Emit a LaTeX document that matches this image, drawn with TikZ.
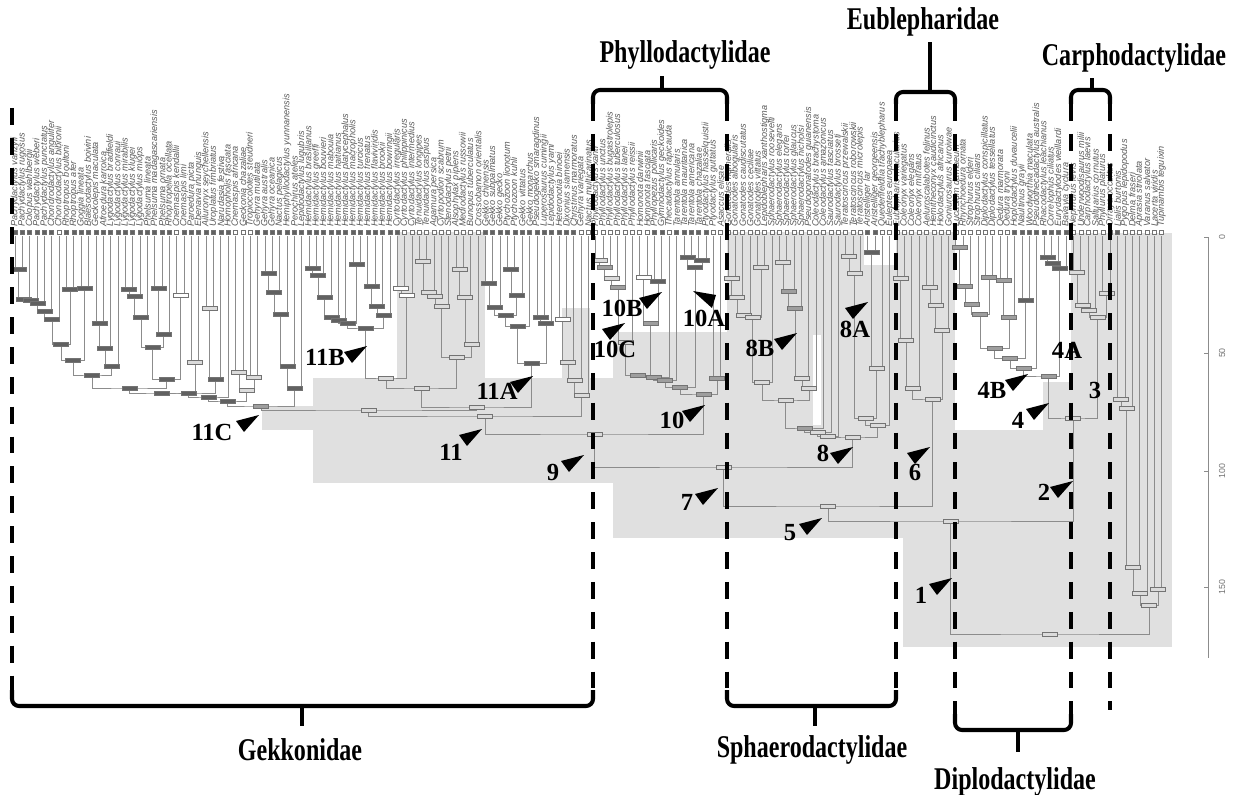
\documentclass[tikz,border=0pt]{standalone}
\usepackage{fontspec}
\setmainfont{Liberation Serif}
\newfontfamily\tipfont{Liberation Sans}
\newfontfamily\famfont{Liberation Serif}[FakeStretch=0.76]
\usetikzlibrary{calc}

\pgfdeclarelayer{bars}
\pgfdeclarelayer{front}
\pgfsetlayers{main,bars,front}

\colorlet{bggray}{black!12}
\colorlet{bd}{black!62}
\colorlet{bm}{black!38}
\colorlet{bl}{black!14}
\colorlet{bw}{white}

% clade: [x shift] name, left child, right child, height, bar fill
\newcommand\clade[6][0]{%
  \coordinate (#2m) at ($(#3)!0.5!(#4)$);
  \coordinate (#2) at ($(#2m |- 0,#5)+(#1,0)$);
  \draw[branch] (#3) |- (#2) -| (#4);
  \begin{pgfonlayer}{bars}
    \node[agebar, fill=#6] (#2bar) at (#2) {};
  \end{pgfonlayer}
}
% pointer triangle: name, tip x, tip y
\newcommand\pointer[3]{%
  \coordinate (#1) at (#2,#3);
  \fill (#1) -- ++(-23,6) -- ++(8,11) -- cycle;
}

\begin{document}
\begin{tikzpicture}[x=0.02cm, y=-0.02cm,
  branch/.style={draw=black!45, line width=0.4pt},
  agebar/.style={draw=black!55, line width=0.3pt, rectangle, inner sep=0pt,
                 minimum width=0.3cm, minimum height=0.08cm},
  tipbox/.style={draw=black!55, line width=0.3pt, rectangle, inner sep=0pt, minimum size=0.08cm},
  tipname/.style={font=\tipfont\itshape\fontsize{5.2}{5.5}\selectfont, text=black!65,
                  rotate=90, anchor=west, inner sep=0.5pt},
  famline/.style={line width=2.3pt, dash pattern=on 9.6pt off 7.4pt},
  bracket/.style={line width=2.3pt, rounded corners=4pt},
  famlab/.style={font=\famfont\bfseries\fontsize{18}{18}\selectfont, inner sep=0pt},
  numlab/.style={font=\bfseries\fontsize{14}{14}\selectfont, inner sep=0pt},
  axis/.style={draw=black!45, line width=0.4pt}
]
\useasboundingbox (0,0) rectangle (1233,794);

% shaded blocks
\fill[bggray] (397,232) rectangle (485,378);
\fill[bggray] (562,308) rectangle (590,378);
\fill[bggray] (313,378) rectangle (613,483);
\fill[bggray] (262,406) rectangle (313,430);
\fill[bggray] (613,332) rectangle (903,538);
\fill[bggray] (727,232) rectangle (896,332);
\fill[bggray] (896,232) rectangle (955,538);
\fill[bggray] (955,430) rectangle (1071,538);
\fill[bggray] (1043,382) rectangle (1071,430);
\fill[bggray] (1071,233) rectangle (1172,647);
\fill[bggray] (903,538) rectangle (1172,647);
\fill[white] (813,335) rectangle (821,425);
\fill[white] (864,232) rectangle (896,265);

% tips
\foreach \i in {0,...,156}
  \coordinate (t\i) at (15+7.35*\i,236);
\foreach \i in {0,...,156}
  \node[tipbox, fill=bd] (s\i) at (15+7.35*\i,232) {};
\foreach \i in {6,22,30,31,32,53,54,55,56,57,58,59,60,61,62,63,77,78,79,80,81,82,83,84,85,86,89,95,96,
  97,98,99,100,101,102,103,104,105,106,107,108,109,110,111,112,113,114,115,118,119,120,121,122,123,124,
  125,126,127,128,129,130,131,132,133,134,135,144,145,146,147,148,149,151,152,153,154,155,156}
  \node[tipbox, fill=white] (sw\i) at (s\i) {};

\foreach \nm [count=\i from 0] in {Pachydactylus vanzyli, Pachydactylus rugosus, Colopus wahlbergii,
  Pachydactylus weberi, Pachydactylus punctatus, Chondrodactylus angulifer, Chondrodactylus bibronii,
  Rhoptropus boultoni, Rhoptropus afer, Goggia lineata, Blaesodactylus boivini, Geckolepis maculata,
  Afroedura karroica, Lygodactylus bradfieldi, Lygodactylus conraui, Lygodactylus mirabilis,
  Lygodactylus klugei, Lygodactylus miops, Phelsuma lineata, Phelsuma madagascariensis, Phelsuma ornata,
  Rhoptropella ocellata, Cnemaspis kendallii, Cnemaspis limi, Paroedura picta, Ebenavia inunguis,
  Ailuronyx seychellensis, Uroplatus fimbriatus, Narudasia festiva, Homopholis fasciata,
  Cnemaspis africana, Geckonia chazaliae, Tropiocolotes steudneri, Gehyra mutilata, Gehyra australis,
  Gehyra oceanica, Nactus pelagicus, Hemiphyllodactylus yunnanensis, Perochirus ateles,
  Lepidodactylus lugubris, Hemidactylus brasilianus, Hemidactylus greeffi, Hemidactylus bouvieri,
  Hemidactylus mabouia, Hemidactylus haitianus, Hemidactylus platycephalus, Hemidactylus macropholis,
  Hemidactylus turcicus, Hemidactylus frenatus, Hemidactylus flaviviridis, Hemidactylus brookii,
  Hemidactylus bowringii, Cyrtodactylus irregularis, Cyrtodactylus philippinicus,
  Cyrtodactylus intermedius, Tenuidactylus longipes, Tenuidactylus caspius, Agamura persica,
  Cyrtopodion scabrum, Stenodactylus petrii, Alsophylax pipiens, Mediodactylus russowii,
  Bunopus tuberculatus, Crossobamon orientalis, Gekko chinensis, Gekko subpalmatus, Gekko gecko,
  Ptychozoon lionotum, Ptychozoon kuhli, Gekko vittatus, Gekko monarchus, Pseudogekko smaragdinus,
  Luperosaurus cumingii, Lepidodactylus yami, Heteronotia binoei, Dixonius siamensis,
  Christinus marmoratus, Gehyra variegata, Nactus multicarinatus,
  Phyllodactylus xanti, Phyllodactylus unctus, Phyllodactylus bugastrolepis,
  Phyllodactylus tuberculosus, Phyllodactylus lanei, Phyllodactylus reissii, Homonota darwinii,
  Homonota fasciata, Phyllopezus pollicaris, Gymnodactylus geckoides, Thecadactylus rapicauda,
  Tarentola annularis, Tarentola mauritanica, Tarentola americana, Tarentola chazaliae,
  Ptyodactylus hasselquistii, Ptyodactylus guttatus, Asaccus elisae,
  Gonatodes humeralis, Gonatodes albogularis, Gonatodes caudiscutatus, Gonatodes ceciliae,
  Gonatodes vittatus, Lepidoblepharis xanthostigma, Sphaerodactylus roosevelti,
  Sphaerodactylus elegans, Sphaerodactylus torrei, Sphaerodactylus glaucus, Sphaerodactylus nicholsi,
  Pseudogonatodes guianensis, Coleodactylus brachystoma, Coleodactylus amazonicus,
  Saurodactylus fasciatus, Saurodactylus brosseti, Teratoscincus przewalskii,
  Teratoscincus roborowskii, Teratoscincus microlepis, Aristelliger lar, Aristelliger georgeensis,
  Quedenfeldtia trachyblepharus, Euleptes europaea,
  Eublepharis macularius, Coleonyx variegatus, Coleonyx elegans, Coleonyx mitratus,
  Aeluroscalabotes felinus, Hemitheconyx caudicinctus, Holodactylus africanus, Goniurosaurus kuroiwae,
  Lucasium damaeum, Rhynchoedura ornata, Strophurus elderi, Strophurus ciliaris,
  Diplodactylus conspicillatus, Diplodactylus tessellatus, Oedura marmorata, Oedura tryoni,
  Hoplodactylus duvaucelii, Naultinus grayii, Woodworthia maculata, Pseudothecadactylus australis,
  Rhacodactylus leachianus, Correlophus ciliatus, Eurydactylodes vieillardi, Bavayia cyclura,
  Nephrurus levis, Underwoodisaurus milii, Carphodactylus laevis, Saltuarius cornutus,
  Phyllurus platurus, Orraya occultus,
  Lialis burtonis, Pygopus lepidopodus, Delma fraseri, Aprasia striolata, Varanus salvator,
  Lacerta viridis, Tupinambis teguixin}
  \node[tipname] (nm\i) at ($(t\i)+(0,-8)$) {\nm};

% Gekkonidae
\clade{a1}{t0}{t1}{269}{bd}
\clade{a2}{a1}{t2}{299}{bd}
\clade{a3}{a2}{t3}{300}{bd}
\clade{a4}{a3}{t4}{303}{bd}
\clade{a5}{a4}{t5}{311}{bd}
\clade{a6}{a5}{t6}{319}{bd}
\clade{b1}{t7}{t8}{289}{bd}
\clade{b2}{t9}{t10}{288}{bd}
\clade{a7}{a6}{b1}{344}{bd}
\clade{a8}{a7}{b2}{360}{bd}
\clade{c1}{t11}{t12}{323}{bd}
\clade{c2}{c1}{t13}{348}{bd}
\clade{c3}{c2}{t14}{366}{bd}
\clade{a9}{a8}{c3}{375}{bd}
\clade{d1}{t15}{t16}{289}{bd}
\clade{d2}{d1}{t17}{296}{bd}
\clade{d3}{d2}{t18}{317}{bd}
\clade{e1}{t19}{t20}{288}{bd}
\clade{e2}{e1}{t21}{334}{bd}
\clade{d4}{d3}{e2}{347}{bd}
\clade{f0}{t22}{t23}{295}{bw}
\clade{d5}{d4}{f0}{379}{bd}
\clade{a10}{a9}{d5}{388}{bd}
\clade{f1}{t24}{t25}{362}{bl}
\clade{a11}{a10}{f1}{393}{bd}
\clade{g1}{t26}{t27}{308}{bl}
\clade{g2}{g1}{t28}{379}{bd}
\clade{a12}{a11}{g2}{393}{bd}
\clade{a13}{a12}{t29}{397}{bd}
\clade{h1}{t30}{t31}{372}{bl}
\clade{h2}{t32}{t33}{377}{bl}
\clade{h3}{h1}{h2}{390}{bl}
\clade{a14}{a13}{h3}{401}{bd}
\clade{k1}{t34}{t35}{273}{bd}
\clade{k2}{k1}{t36}{292}{bd}
\clade{k3}{k2}{t37}{314}{bd}
\clade{k4}{k3}{t38}{366}{bd}
\clade{k5}{k4}{t39}{388}{bd}
\clade{n11C}{a14}{k5}{406}{bm}
\clade{m1}{t40}{t41}{268}{bd}
\clade{m2}{m1}{t42}{275}{bd}
\clade{m3}{m2}{t43}{297}{bd}
\clade{m4}{m3}{t44}{317}{bd}
\clade{m5}{m4}{t45}{320}{bd}
\clade{n1}{t46}{t47}{264}{bd}
\clade{m6}{m5}{n1}{323}{bd}
\clade{n2}{t48}{t49}{286}{bd}
\clade{n3}{n2}{t50}{306}{bd}
\clade{n4}{n3}{t51}{315}{bd}
\clade{n11B}{m6}{n4}{328}{bd}
\clade{p1}{t52}{t53}{288}{bw}
\clade{p2}{p1}{t54}{295}{bw}
\clade{p3}{n11B}{p2}{378}{bl}
\clade{q1}{t55}{t56}{261}{bl}
\clade{q2}{q1}{t57}{292}{bl}
\clade{q3}{q2}{t58}{296}{bl}
\clade{q4}{q3}{t59}{306}{bl}
\clade{r1}{t60}{t61}{269}{bl}
\clade{r2}{r1}{t62}{297}{bl}
\clade{r3}{r2}{t63}{344}{bl}
\clade{q5}{q4}{r3}{357}{bl}
\clade{s1}{p3}{q5}{388}{bl}
\clade{w1}{t64}{t65}{283}{bd}
\clade{w2}{w1}{t66}{307}{bd}
\clade{y1}{t67}{t68}{269}{bd}
\clade{y2}{y1}{t69}{295}{bd}
\clade{w3}{w2}{y2}{315}{bd}
\clade{w4}{w3}{t70}{326}{bd}
\clade{z1}{t71}{t72}{317}{bd}
\clade{z2}{z1}{t73}{323}{bd}
\clade{n11A}{w4}{z2}{363}{bd}
\clade{v1}{t74}{t75}{319}{bw}
\clade{v2}{v1}{t76}{362}{bl}
\clade{v3}{v2}{t77}{380}{bl}
\clade{v4}{v3}{t78}{395}{bl}
\clade{x1}{s1}{n11A}{407}{bl}
\clade{x2}{n11C}{x1}{410}{bl}
\clade[10]{n11}{x2}{v4}{416}{bl}

% Phyllodactylidae
\clade{ph1}{t79}{t80}{260}{bl}
\clade{ph2}{ph1}{t81}{267}{bm}
\clade{ph3}{ph2}{t82}{278}{bl}
\clade{ph4}{ph3}{t83}{287}{bm}
\clade{ph5}{ph4}{t84}{342}{bl}
\clade{phw}{t85}{t86}{277}{bw}
\clade{phv}{t87}{t88}{281}{bd}
\clade{n10B}{phw}{phv}{323}{bm}
\clade{pc1}{ph5}{n10B}{375}{bm}
\clade{pc2}{pc1}{t89}{377}{bm}
\clade{pc3}{pc2}{t90}{380}{bm}
\clade{phh1}{t91}{t92}{257}{bd}
\clade{phh2}{t93}{t94}{260}{bd}
\clade{phh3}{phh1}{phh2}{267}{bd}
\clade{pc4}{pc3}{phh3}{387}{bm}
\clade{ph9}{t95}{t96}{378}{bm}
\clade[5]{n10}{pc4}{ph9}{394}{bm}
\clade{n9}{n11}{n10}{434}{bl}

% Sphaerodactylidae
\clade{sp1}{t97}{t98}{278}{bl}
\clade{sp2}{sp1}{t99}{297}{bl}
\clade{sp3}{sp2}{t100}{315}{bl}
\clade{sp4}{t101}{t102}{267}{bl}
\clade{sp5}{sp3}{sp4}{317}{bl}
\clade{sp6}{sp5}{t103}{382}{bl}
\clade{sk1}{t104}{t105}{262}{bl}
\clade{sk2}{sk1}{t106}{291}{bm}
\clade{sk3}{sk2}{t107}{308}{bm}
\clade{sk4}{sk3}{t108}{378}{bl}
\clade{sk5}{sk4}{t109}{388}{bl}
\clade{n8B}{sp6}{sk5}{400}{bl}
\clade{se1}{n8B}{t110}{428}{bm}
\clade{se2}{se1}{t111}{432}{bl}
\clade{se3}{se2}{t112}{436}{bl}
\clade{sf1}{t113}{t114}{256}{bl}
\clade{sf2}{sf1}{t115}{273}{bl}
\clade{sg1}{t116}{t117}{252}{bd}
\clade{sg2}{sg1}{t118}{368}{bl}
\clade{sf3}{sf2}{sg2}{418}{bl}
\clade{n8A}{sf3}{t119}{425}{bl}
\clade{n8}{se3}{n8A}{437}{bl}
\clade{n7}{n9}{n8}{467}{bl}

% Eublepharidae
\clade{eu1}{t120}{t121}{278}{bl}
\clade{eu2}{eu1}{t122}{340}{bl}
\clade{eu3}{eu2}{t123}{388}{bl}
\clade{ev1}{t124}{t125}{287}{bl}
\clade{ev2}{ev1}{t126}{305}{bl}
\clade{ev3}{ev2}{t127}{330}{bl}
\clade[5]{n6}{eu3}{ev3}{399}{bl}
\clade{n5}{n7}{n6}{506}{bl}

% Diplodactylidae
\clade{dp1}{t128}{t129}{247}{bm}
\clade{dp2}{dp1}{t130}{286}{bm}
\clade{dp3}{dp2}{t131}{304}{bm}
\clade{de1}{t132}{t133}{277}{bm}
\clade{de2}{t134}{t135}{280}{bm}
\clade{dp4}{dp3}{de1}{314}{bm}
\clade{de3}{de2}{t136}{317}{bm}
\clade{dp5}{dp4}{de3}{348}{bm}
\clade{df1}{t137}{t138}{300}{bd}
\clade{dp6}{dp5}{df1}{358}{bm}
\clade{dp7}{dp6}{t139}{368}{bm}
\clade{dg1}{t140}{t141}{257}{bd}
\clade{dg2}{dg1}{t142}{263}{bd}
\clade{dg3}{dg2}{t143}{268}{bd}
\clade[7]{dp8}{dp7}{dg3}{376}{bm}

% Carphodactylidae
\clade{cp1}{t144}{t145}{272}{bl}
\clade{cp2}{cp1}{t146}{305}{bl}
\clade{cp3}{cp2}{t147}{310}{bl}
\clade{cp4}{t148}{t149}{293}{bl}
\clade{n3c}{cp3}{cp4}{317}{bl}
\clade{n4}{dp8}{n3c}{418}{bl}
\clade{n1g}{n5}{n4}{521}{bl}

% outgroups and root
\clade{o1}{t150}{t151}{399}{bl}
\clade{o2}{o1}{t152}{408}{bl}
\clade{o3}{o2}{t153}{567}{bl}
\clade{o4}{o3}{t154}{593}{bl}
\clade{o5}{t155}{t156}{589}{bl}
\clade{o6}{o4}{o5}{605}{bl}
\clade{root}{n1g}{o6}{634}{bl}

% time axis
\draw[axis] (1208,237) -- (1208,658);
\foreach \yy/\lab in {237/0, 353/50, 471/100, 587/150} {
  \draw[axis] (1204,\yy) -- (1208,\yy);
  \node[font=\tipfont\fontsize{5}{5}\selectfont, text=black!55, rotate=90, inner sep=0pt]
    (ax\lab) at (1222,\yy) {\lab};
}

\begin{pgfonlayer}{front}
% family boundaries
\draw[famline] (12,108) -- (12,692);
\draw[famline] (593,104) -- (593,692);
\draw[famline] (727,104) -- (727,692);
\draw[famline] (896,104) -- (896,692);
\draw[famline] (955,104) -- (955,716);
\draw[famline] (1071,104) -- (1071,716);
\draw[famline] (1110,104) -- (1110,710);

\draw[bracket] (593,104) -- (593,90) -- (727,90) -- (727,104);
\draw[bracket] (662,90) -- (662,76);
\draw[bracket] (896,104) -- (896,92) -- (955,92) -- (955,104);
\draw[bracket] (930,92) -- (930,42);
\draw[bracket] (1071,104) -- (1071,90) -- (1110,90) -- (1110,104);
\draw[bracket] (1092,90) -- (1092,78);
\draw[bracket] (12,690) -- (12,706) -- (593,706) -- (593,690);
\draw[bracket] (302,706) -- (302,726);
\draw[bracket] (727,690) -- (727,706) -- (896,706) -- (896,690);
\draw[bracket] (815,706) -- (815,726);
\draw[bracket] (955,714) -- (955,730) -- (1071,730) -- (1071,714);
\draw[bracket] (1018,730) -- (1018,752);

\node[famlab] (phyllo) at (685,55) {Phyllodactylidae};
\node[famlab] (eubleph) at (923,22) {Eublepharidae};
\node[famlab] (carpho) at (1134,58) {Carphodactylidae};
\node[famlab] (gekko) at (300,750) {Gekkonidae};
\node[famlab] (sphaero) at (812,750) {Sphaerodactylidae};
\node[famlab] (diplo) at (1015,782) {Diplodactylidae};

% node pointers
\pointer{p11C}{259}{415}
\pointer{p11B}{367}{346}
\pointer{p11A}{533}{376}
\pointer{p11}{482}{429}
\pointer{p9}{584}{455}
\pointer{p10}{705}{405}
\pointer{p10B}{662}{292}
\pointer{p10C}{625}{323}
\pointer{p8B}{797}{333}
\pointer{p8A}{868}{302}
\pointer{p8}{853}{447}
\pointer{p6}{930}{447}
\pointer{p7}{718}{488}
\pointer{p5}{822}{518}
\pointer{p4B}{1028}{374}
\pointer{p4}{1049}{403}
\pointer{p2}{1073}{481}
\pointer{p1}{952}{578}
\coordinate (p10A) at (712,308);
\fill (p10A) -- ++(-19,-17) -- ++(23,4) -- cycle;

\node[numlab] (l11C) at (212,432) {11C};
\node[numlab] (l11B) at (325,357) {11B};
\node[numlab] (l11A) at (497,391) {11A};
\node[numlab] (l11) at (451,452) {11};
\node[numlab] (l9) at (553,472) {9};
\node[numlab] (l10) at (672,420) {10};
\node[numlab] (l10B) at (622,308) {10B};
\node[numlab] (l10A) at (704,318) {10A};
\node[numlab] (l10C) at (615,349) {10C};
\node[numlab] (l8B) at (760,348) {8B};
\node[numlab] (l8A) at (855,329) {8A};
\node[numlab] (l8) at (823,453) {8};
\node[numlab] (l6) at (915,472) {6};
\node[numlab] (l7) at (687,502) {7};
\node[numlab] (l5) at (790,533) {5};
\node[numlab] (l4B) at (992,390) {4B};
\node[numlab] (l4A) at (1067,350) {4A};
\node[numlab] (l4) at (1018,420) {4};
\node[numlab] (l3) at (1095,390) {3};
\node[numlab] (l2) at (1044,492) {2};
\node[numlab] (l1) at (921,595) {1};
\end{pgfonlayer}
\end{tikzpicture}
\end{document}
